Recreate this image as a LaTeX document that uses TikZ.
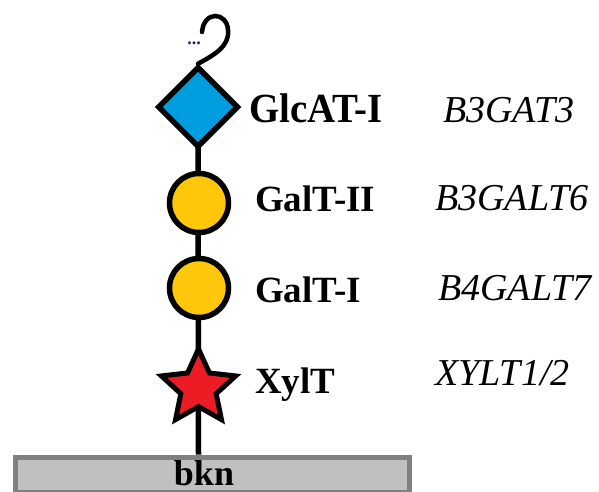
\documentclass[tikz,border=0pt]{standalone}
\usepackage{fontspec}
\setmainfont{Liberation Serif}
\usetikzlibrary{shapes.geometric}
\definecolor{glcblue}{RGB}{0,158,222}
\definecolor{galyellow}{RGB}{255,199,10}
\definecolor{xylred}{RGB}{237,28,36}
\definecolor{bkngray}{RGB}{192,192,192}
\definecolor{bknedge}{RGB}{128,128,128}
\definecolor{dotblue}{RGB}{30,40,80}
\tikzset{
  bond/.style={line width=5.5pt, black},
  glca/.style={diamond, draw=black, line width=5.5pt, fill=glcblue, minimum size=81pt, inner sep=0pt, aspect=1},
  gal/.style={circle, draw=black, line width=5.5pt, fill=galyellow, minimum size=59pt, inner sep=0pt},
  xyl/.style={star, star points=5, star point ratio=2.1, draw=black, line width=5pt, fill=xylred, minimum size=78pt, inner sep=0pt, line join=miter},
  enz/.style={anchor=base west, font=\fontsize{37}{40}\selectfont\bfseries, inner sep=0pt},
  gene/.style={anchor=base west, font=\fontsize{38}{40}\selectfont\itshape, inner sep=0pt},
}
\begin{document}
\begin{tikzpicture}[x=1pt,y=-1pt]
\useasboundingbox (0,0) rectangle (599,492);
% backbone
\node (bkn) [draw=bknedge, line width=5pt, fill=bkngray, minimum width=394pt, minimum height=35pt, inner sep=0pt, anchor=north west] at (12.5,454.5) {};
\node (bkntext) [anchor=base, font=\fontsize{36}{40}\selectfont\bfseries, inner sep=0pt] at (204,485) {bkn};
% residue positions
\coordinate (pxyl) at (198.5,388);
\coordinate (pgal1) at (199,288);
\coordinate (pgal2) at (199,203);
\coordinate (pglca) at (198,107);
% connectors (drawn first, under shapes)
\draw[bond] (bkn.north -| pxyl) -- (pglca);
% residues
\node (xyl) [xyl] at (pxyl) {};
\node (gal1) [gal] at (pgal1) {};
\node (gal2) [gal] at (pgal2) {};
\node (glca) [glca] at (pglca) {};
% hook
\draw[line width=4.5pt, line cap=round] (glca.north) .. controls (212,56) and (230,47) .. (228,30) .. controls (227,12) and (204,10) .. (202,32);
\node (dots) [font=\fontsize{18}{18}\selectfont\bfseries, text=dotblue, inner sep=0pt] at (194,43) {...};
% enzyme labels
\node (l1) [enz] at (249,122) {\scalebox{1.05}[1.12]{GlcAT-I}};
\node (l2) [enz] at (255,211) {GalT-II};
\node (l3) [enz] at (255,302) {GalT-I};
\node (l4) [enz] at (255,393) {XylT};
% gene labels
\node (g1) [gene] at (443,122) {B3GAT3};
\node (g2) [gene] at (435,210) {B3GALT6};
\node (g3) [gene] at (438,300) {B4GALT7};
\node (g4) [gene] at (435,385) {XYLT1/2};
\end{tikzpicture}
\end{document}
